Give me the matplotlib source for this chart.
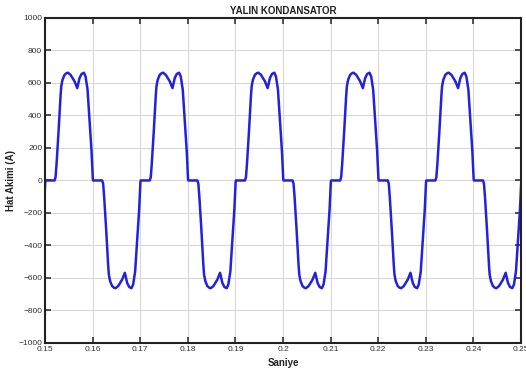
import numpy as np
import matplotlib.pyplot as plt

plt.rcParams['font.family'] = ['Liberation Sans', 'DejaVu Sans']

# one current pulse: time from pulse start (ms) and amplitude (A)
pulse_t_ms = [0.0, 0.21, 0.42, 0.84, 1.26, 1.41, 1.68, 2.10, 2.50, 2.80, 3.36,
              4.20, 4.77, 5.25, 5.67, 6.16, 6.51, 6.93, 7.35, 7.77, 8.04, 8.10]
pulse_amp = [0, 20, 100, 300, 520, 580, 620, 650, 660, 663, 650,
             610, 568, 630, 655, 663, 640, 560, 375, 180, 10, 0]

# pulse start times (s) and polarity of each half cycle
pulse_start = [0.1420, 0.1520, 0.1620, 0.1720, 0.1820, 0.1920,
               0.2020, 0.2120, 0.2220, 0.2320, 0.2420]
pulse_sign = [-1, 1, -1, 1, -1, 1, -1, 1, -1, 1, -1]

x_ticks = [0.15, 0.16, 0.17, 0.18, 0.19, 0.2, 0.21, 0.22, 0.23, 0.24, 0.25]
x_labels = ['0.15', '0.16', '0.17', '0.18', '0.19', '0.2',
            '0.21', '0.22', '0.23', '0.24', '0.25']
y_ticks = [-1000, -800, -600, -400, -200, 0, 200, 400, 600, 800, 1000]

t = []
i = []
for s0, sg in zip(pulse_start, pulse_sign):
    t += [s0 + v / 1000 for v in pulse_t_ms]
    i += [sg * a for a in pulse_amp]

fig = plt.figure(figsize=(5.26, 3.78), dpi=100)
ax = fig.add_axes([0.0856, 0.0926, 0.905, 0.86])

ax.plot(t, i, color='#2222dd', lw=1.8)

ax.set_xlim(0.15, 0.25)
ax.set_ylim(-1000, 1000)
ax.set_xticks(x_ticks)
ax.set_xticklabels(x_labels)
ax.set_yticks(y_ticks)
ax.grid(True, color='#d8d8d8', lw=0.8)
ax.tick_params(direction='in', top=True, right=True, length=4, width=1.2,
               labelsize=6, colors='#333333', pad=2)
for sp in ax.spines.values():
    sp.set_linewidth(1.5)
    sp.set_color('#222222')

ax.set_title('YALIN KONDANSATOR', fontsize=7, fontweight='bold',
             color='#222222', pad=3)
ax.set_xlabel('Saniye', fontsize=7, fontweight='bold', color='#222222', labelpad=4)
ax.set_ylabel('Hat Akimi (A)', fontsize=7, fontweight='bold', color='#222222', labelpad=2)

fig.savefig('out.png', dpi=100)
